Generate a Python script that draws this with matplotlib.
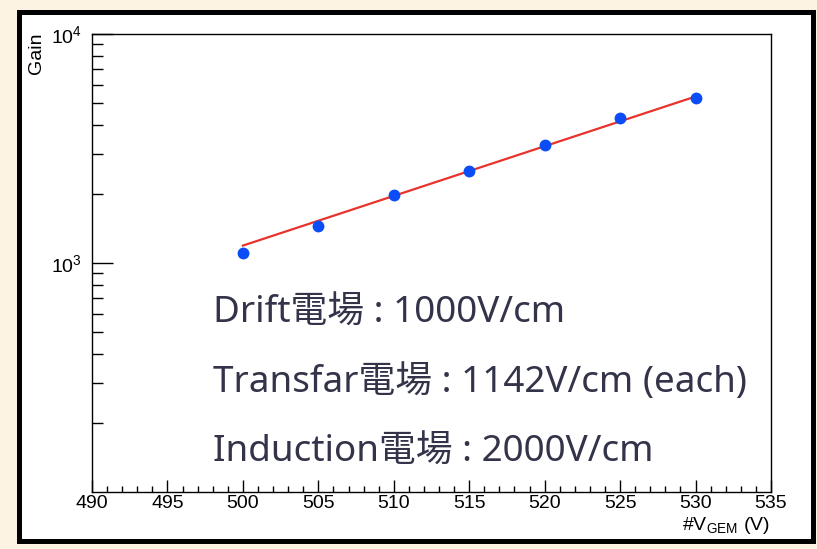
import numpy as np
import matplotlib
matplotlib.use("Agg")
import matplotlib.pyplot as plt
from matplotlib.patches import Rectangle
from matplotlib.ticker import LogLocator, FixedLocator, NullFormatter, MultipleLocator

plt.rcParams['mathtext.fontset'] = 'custom'
plt.rcParams['mathtext.rm'] = 'Liberation Sans'
plt.rcParams['mathtext.it'] = 'Liberation Sans'
plt.rcParams['mathtext.bf'] = 'Liberation Sans:bold'

# GEM voltage scan
v_gem = [500, 505, 510, 515, 520, 525, 530]
gain = [1103, 1456, 1975, 2522, 3265, 4285, 5240]

# Exponential fit: log10(gain) = fit_log10_at_ref + fit_slope * (V - fit_ref_v)
fit_ref_v = 500
fit_log10_at_ref = 3.076
fit_slope = 0.0217
fit_range = [500, 530]

field_lines = [
    "Drift電場 : 1000V/cm",
    "Transfar電場 : 1142V/cm (each)",
    "Induction電場 : 2000V/cm",
]

W, H = 817, 549
fig = plt.figure(figsize=(W / 100, H / 100), dpi=100, facecolor='#fcf3e3')

# black framed white panel
fig.add_artist(Rectangle((18.5 / W, 1 - 540.5 / H), 794 / W, 528.5 / H,
                         transform=fig.transFigure, facecolor='white',
                         edgecolor='black', linewidth=3.6, zorder=0))

ax = fig.add_axes([92 / W, 1 - 492 / H, (771 - 92) / W, (492 - 34) / H])
ax.set_facecolor('none')
ax.set_xlim(490, 535)
ax.set_yscale('log')
ax.set_ylim(100, 1e4)

vv = np.linspace(fit_range[0], fit_range[1], 200)
ax.plot(vv, 10 ** (fit_log10_at_ref + fit_slope * (vv - fit_ref_v)),
        color='#e8332c', lw=1.6, zorder=2)
ax.plot(v_gem, gain, 'o', color='#0a4cf5', ms=7.5, mec='#0a4cf5', zorder=3)

fs = 14
tick_font = dict(family='Liberation Sans', size=fs)
ax.set_xticks(list(range(490, 540, 5)))
ax.set_xticklabels([str(t) for t in range(490, 540, 5)], fontdict=tick_font)
ax.xaxis.set_minor_locator(MultipleLocator(1))
ax.yaxis.set_major_locator(FixedLocator([1e3, 1e4]))
ax.set_yticklabels([r'$10^{3}$', r'$10^{4}$'], fontsize=fs)
ax.yaxis.set_minor_locator(LogLocator(base=10, subs=np.arange(2, 10)))
ax.yaxis.set_minor_formatter(NullFormatter())

ax.tick_params(axis='x', which='major', direction='in', length=9, width=1, pad=2, top=False)
ax.tick_params(axis='x', which='minor', direction='in', length=4.3, width=1, top=False)
ax.tick_params(axis='y', which='major', direction='in', length=15, width=1, pad=7, right=False)
ax.tick_params(axis='y', which='minor', direction='in', length=8, width=1, right=False)
for s in ax.spines.values():
    s.set_linewidth(1.0)

fig.text(37 / W, 1 - 33 / H, 'Gain', rotation=90, ha='center', va='top',
         family='Liberation Sans', size=fs)
fig.text(770 / W, 1 - 530 / H, r'#V$_{\mathrm{GEM}}$ (V)', ha='right', va='baseline',
         family='Liberation Sans', size=fs)

for i, line in enumerate(field_lines):
    fig.text(213 / W, 1 - (322.5 + 69.5 * i) / H, line, ha='left', va='baseline',
             family=['Noto Sans', 'Noto Sans CJK JP'], size=26.5, color='#33344a')

fig.savefig('out.png', dpi=100, facecolor=fig.get_facecolor())
